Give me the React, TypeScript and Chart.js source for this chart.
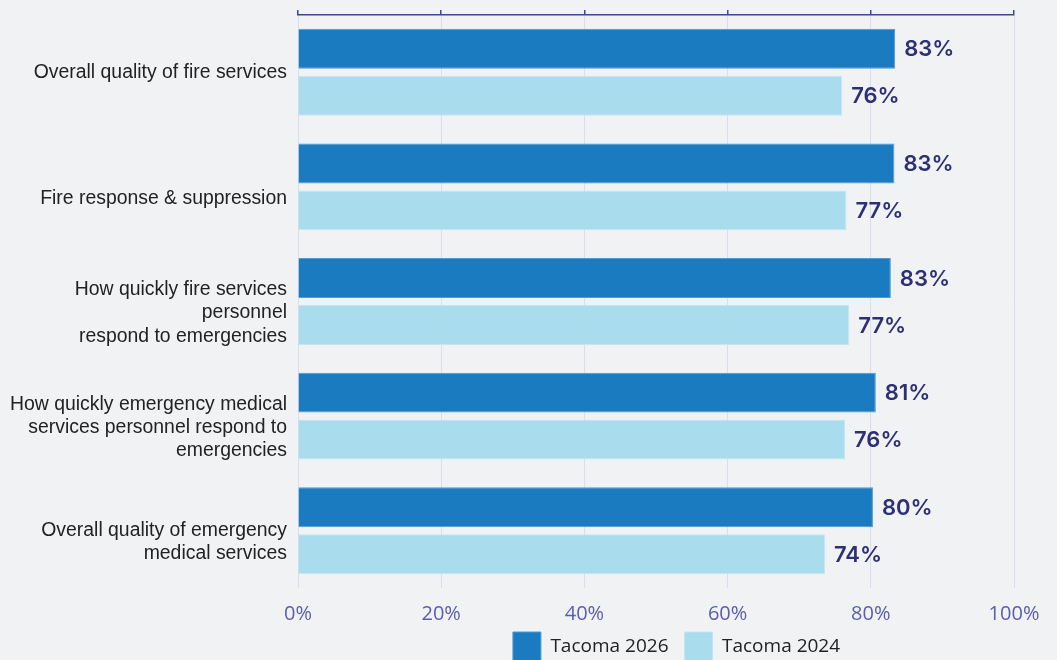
import React, { useEffect, useRef } from "react";
import { Chart, registerables } from "chart.js";

Chart.register(...registerables);

const categories: (string | string[])[] = [
  "Overall quality of fire services",
  "Fire response & suppression",
  ["How quickly fire services", "personnel", "respond to emergencies"],
  ["How quickly emergency medical", "services personnel respond to", "emergencies"],
  ["Overall quality of emergency", "medical services"],
];
const seriesNames = ["Tacoma 2026", "Tacoma 2024"];
const tacoma2026 = [83.4, 83.3, 82.8, 80.7, 80.3];
const tacoma2024 = [76.0, 76.6, 77.0, 76.4, 73.6];
const xTicks = [0, 20, 40, 60, 80, 100];

const NAVY = "#2e3076";

const valueLabels = {
  id: "valueLabels",
  afterDatasetsDraw(chart: any) {
    const ctx = chart.ctx;
    ctx.save();
    ctx.font = "600 22px Inter, 'Open Sans', sans-serif";
    ctx.fillStyle = NAVY;
    ctx.textAlign = "left";
    ctx.textBaseline = "middle";
    chart.data.datasets.forEach((ds: any, di: number) => {
      const meta = chart.getDatasetMeta(di);
      meta.data.forEach((bar: any, i: number) => {
        const v = ds.data[i] as number;
        ctx.fillText(`${Math.round(v)}%`, bar.x + 9, bar.y + 1);
      });
    });
    ctx.restore();
  },
};

// centre the legend row over the plot side of the figure and tuck it under the axis labels
const legendShift = {
  id: "legendShift",
  afterLayout(chart: any) {
    const lg = chart.legend;
    if (!lg) return;
    lg.left = 296;
    lg.right = chart.width;
    lg.width = lg.right - lg.left;
    lg.top -= 12;
    lg.bottom -= 12;
  },
};

export default function App() {
  const ref = useRef<HTMLCanvasElement | null>(null);
  useEffect(() => {
    if (!ref.current) return;
    const chart = new Chart(ref.current, {
      type: "bar",
      data: {
        labels: categories as any,
        datasets: [
          {
            label: seriesNames[0],
            data: tacoma2026,
            backgroundColor: "#1b7bc0",
            borderColor: "#4e9bd2",
            borderWidth: 1,
            barPercentage: 0.85,
            categoryPercentage: 0.82,
          },
          {
            label: seriesNames[1],
            data: tacoma2024,
            backgroundColor: "#a9ddee",
            borderColor: "#c2e7f3",
            borderWidth: 1,
            barPercentage: 0.85,
            categoryPercentage: 0.82,
          },
        ],
      },
      options: {
        indexAxis: "y",
        animation: false,
        responsive: true,
        maintainAspectRatio: false,
        layout: { padding: { left: 0, right: 0, top: 10, bottom: 0 } },
        plugins: {
          tooltip: { enabled: false },
          legend: {
            position: "bottom",
            labels: {
              boxWidth: 28,
              boxHeight: 29,
              padding: 16,
              color: "#222222",
              font: { family: "'Open Sans', sans-serif", size: 19 },
            },
          },
        },
        scales: {
          x: {
            type: "linear",
            position: "bottom",
            min: 0,
            max: 100,
            afterBuildTicks: (s: any) => {
              s.ticks = xTicks.map((v) => ({ value: v }));
            },
            afterFit: (s: any) => {
              s.paddingLeft = 0;
              s.paddingRight = 43;
              s.height = 40;
            },
            border: { display: false },
            grid: { color: "#dcdcec", lineWidth: 1, drawTicks: false },
            ticks: {
              padding: 14,
              color: "#5a5eb0",
              font: { family: "'Open Sans', sans-serif", size: 20, lineHeight: 1.2 },
              callback: (v: any) => `${v}%`,
            },
          },
          x2: {
            type: "linear",
            axis: "x",
            position: "top",
            min: 0,
            max: 100,
            afterBuildTicks: (s: any) => {
              s.ticks = xTicks.map((v) => ({ value: v }));
            },
            afterFit: (s: any) => {
              s.paddingLeft = 0;
              s.paddingRight = 0;
            },
            border: { display: true, color: "#44468a", width: 1.5 },
            grid: {
              drawOnChartArea: false,
              drawTicks: true,
              tickLength: 5,
              tickColor: "#44468a",
              lineWidth: 1.5,
            },
            ticks: { display: false },
          },
          y: {
            afterFit: (s: any) => {
              s.width = 298;
              s.paddingTop = 0;
              s.paddingBottom = 0;
            },
            border: { display: false },
            grid: { display: false, drawTicks: false },
            ticks: {
              padding: 11,
              color: "#222222",
              font: { family: "'Liberation Sans', Arial, sans-serif", size: 19.4, lineHeight: 1.2 },
              callback: (_v: any, i: number) => {
                const l = categories[i];
                const lines = Array.isArray(l) ? l : [l];
                // the reference sets the lower labels a little below their bar pair's centre
                return i === 0 ? lines : ["", ...lines];
              },
            },
          },
        },
      } as any,
      plugins: [valueLabels, legendShift],
    });
    return () => chart.destroy();
  }, []);

  return (
    <div
      style={{
        position: "fixed",
        left: 0,
        top: 0,
        width: 1057,
        height: 660,
        overflow: "hidden",
        background: "#f1f2f4",
      }}
    >
      <div style={{ position: "relative", width: 1057, height: 683 }}>
        <canvas ref={ref} />
      </div>
    </div>
  );
}
